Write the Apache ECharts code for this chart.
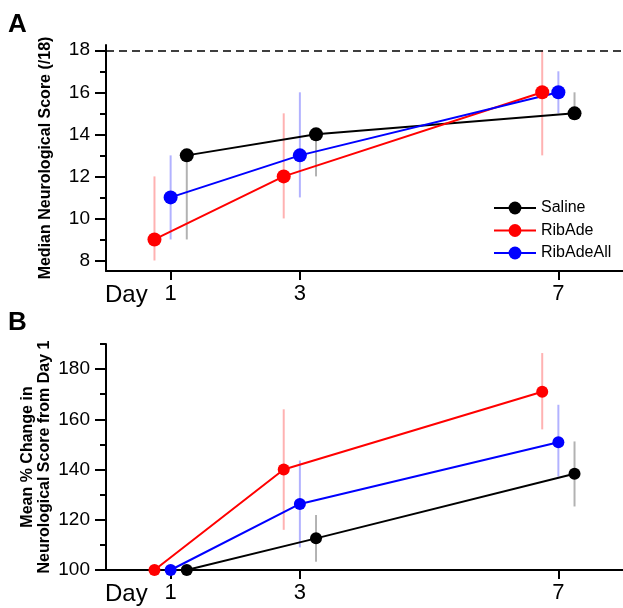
<!DOCTYPE html>
<html>
<head>
<meta charset="utf-8">
<script src="https://cdn.jsdelivr.net/npm/echarts@6/dist/echarts.min.js"></script>
<style>
html, body { margin: 0; padding: 0; background: #fff; }
#main { width: 623px; height: 608px; }
</style>
</head>
<body>
<div id="main"></div>
<script>
// days and tick labels
var days = [1, 3, 7];
var scoreTicks = [8, 10, 12, 14, 16, 18];
var scoreMinorTicks = [9, 11, 13, 15, 17];
var changeTicks = [100, 120, 140, 160, 180];
var changeMinorTicks = [110, 130, 150, 170, 190];

// panel A: median neurological score (/18) with error ranges
var salineMedian = [13, 14, 15];
var salineMedianLow = [9, 12, 15];
var salineMedianHigh = [13, 14, 16];
var ribAdeMedian = [9, 12, 16];
var ribAdeMedianLow = [8, 10, 13];
var ribAdeMedianHigh = [12, 15, 18];
var ribAdeAllMedian = [11, 13, 16];
var ribAdeAllMedianLow = [9, 11, 15];
var ribAdeAllMedianHigh = [13, 16, 17];

// panel B: mean % change from day 1 with error ranges
var salineChange = [100, 112.6, 138.3];
var salineChangeLow = [null, 103.3, 125.3];
var salineChangeHigh = [null, 121.9, 151.2];
var ribAdeChange = [100, 140, 171];
var ribAdeChangeLow = [null, 116, 156];
var ribAdeChangeHigh = [null, 164, 186.4];
var ribAdeAllChange = [100, 126.3, 150.9];
var ribAdeAllChangeLow = [null, 109, 137.2];
var ribAdeAllChangeHigh = [null, 143.6, 165.8];

var FONT = 'Liberation Sans, Arial, sans-serif';
var colors = { Saline: '#000000', RibAde: '#ff0000', RibAdeAll: '#0000ff' };
var barColors = { Saline: 'rgba(0,0,0,0.3)', RibAde: 'rgba(255,0,0,0.3)', RibAdeAll: 'rgba(0,0,255,0.3)' };
var dodge = { Saline: 0.25, RibAde: -0.25, RibAdeAll: 0 };

var myChart = echarts.init(document.getElementById('main'));

function lineSeries(name, values, gi, size) {
    return {
        name: name,
        type: 'line',
        xAxisIndex: gi,
        yAxisIndex: gi * 2,
        data: days.map(function (d, i) { return [d + dodge[name], values[i]]; }),
        symbol: 'circle',
        symbolSize: size,
        showSymbol: true,
        itemStyle: { color: colors[name] },
        lineStyle: { color: colors[name], width: 2 },
        z: 3
    };
}

function barSeries(name, lows, highs, gi) {
    return {
        type: 'custom',
        xAxisIndex: gi,
        yAxisIndex: gi * 2,
        silent: true,
        z: 1,
        data: days.map(function (d, i) {
            return [d + dodge[name], lows[i] == null ? '-' : lows[i], highs[i] == null ? '-' : highs[i]];
        }),
        encode: { x: 0, y: [1, 2] },
        renderItem: function (params, api) {
            var lo = api.value(1), hi = api.value(2);
            if (isNaN(lo) || isNaN(hi)) return null;
            var p1 = api.coord([api.value(0), lo]);
            var p2 = api.coord([api.value(0), hi]);
            return {
                type: 'line',
                shape: { x1: p1[0], y1: p1[1], x2: p2[0], y2: p2[1] },
                style: { stroke: barColors[name], lineWidth: 2 }
            };
        }
    };
}

function xAxisFor(gi) {
    return {
        gridIndex: gi,
        type: 'value',
        min: 0,
        max: 8,
        axisLine: { onZero: false, lineStyle: { color: '#000', width: 2 } },
        axisTick: { customValues: days, length: 9, lineStyle: { color: '#000', width: 2 } },
        axisLabel: { customValues: days, color: '#000', fontSize: 22, fontFamily: FONT, margin: 12 },
        splitLine: { show: false }
    };
}

function yMajor(gi, min, max, ticks, name, gap) {
    return {
        gridIndex: gi,
        type: 'value',
        position: 'left',
        min: min,
        max: max,
        name: name,
        nameLocation: 'middle',
        nameGap: gap,
        nameMoveOverlap: false,
        nameTextStyle: { fontSize: 16, fontWeight: 'bold', color: '#000', fontFamily: FONT, lineHeight: 17 },
        axisLine: { show: true, onZero: false, lineStyle: { color: '#000', width: 2 } },
        axisTick: { customValues: ticks, length: 11, lineStyle: { color: '#000', width: 2 } },
        axisLabel: { customValues: ticks, color: '#000', fontSize: 19, fontFamily: FONT, margin: 16 },
        splitLine: { show: false }
    };
}

function yMinor(gi, min, max, ticks) {
    return {
        gridIndex: gi,
        type: 'value',
        position: 'left',
        offset: 0,
        min: min,
        max: max,
        axisLine: { show: false },
        axisTick: { show: true, customValues: ticks, length: 6, lineStyle: { color: '#000', width: 2 } },
        axisLabel: { show: false },
        splitLine: { show: false }
    };
}

var salineA = lineSeries('Saline', salineMedian, 0, 14);
salineA.markLine = {
    silent: true,
    symbol: 'none',
    label: { show: false },
    lineStyle: { color: '#000', type: [8, 5], width: 1.5 },
    data: [{ yAxis: 18 }]
};

var option = {
    animation: false,
    textStyle: { fontFamily: FONT },
    grid: [
        { left: 106, top: 45, width: 520, height: 226 },
        { left: 106, top: 344, width: 520, height: 226 }
    ],
    legend: {
        orient: 'vertical',
        left: 493,
        top: 200,
        padding: 0,
        itemWidth: 42,
        itemHeight: 16,
        itemGap: 6.5,
        data: ['Saline', 'RibAde', 'RibAdeAll'],
        textStyle: { fontSize: 16, color: '#000', fontFamily: FONT }
    },
    xAxis: [xAxisFor(0), xAxisFor(1)],
    yAxis: [
        yMajor(0, 7.5, 18.25, scoreTicks, 'Median Neurological Score (/18)', 52),
        yMinor(0, 7.5, 18.25, scoreMinorTicks),
        yMajor(1, 100, 190, changeTicks, 'Mean % Change in\nNeurological Score from Day 1', 53),
        yMinor(1, 100, 190, changeMinorTicks)
    ],
    graphic: [
        { type: 'text', left: 8, top: 12, style: { text: 'A', fontSize: 26, fontWeight: 'bold', fill: '#000', fontFamily: FONT } },
        { type: 'text', left: 8, top: 310, style: { text: 'B', fontSize: 26, fontWeight: 'bold', fill: '#000', fontFamily: FONT } },
        { type: 'text', left: 105, top: 283, style: { text: 'Day', fontSize: 24, fill: '#000', fontFamily: FONT } },
        { type: 'text', left: 105, top: 582, style: { text: 'Day', fontSize: 24, fill: '#000', fontFamily: FONT } }
    ],
    series: [
        barSeries('Saline', salineMedianLow, salineMedianHigh, 0),
        barSeries('RibAde', ribAdeMedianLow, ribAdeMedianHigh, 0),
        barSeries('RibAdeAll', ribAdeAllMedianLow, ribAdeAllMedianHigh, 0),
        salineA,
        lineSeries('RibAde', ribAdeMedian, 0, 14),
        lineSeries('RibAdeAll', ribAdeAllMedian, 0, 14),
        barSeries('Saline', salineChangeLow, salineChangeHigh, 1),
        barSeries('RibAde', ribAdeChangeLow, ribAdeChangeHigh, 1),
        barSeries('RibAdeAll', ribAdeAllChangeLow, ribAdeAllChangeHigh, 1),
        lineSeries('Saline', salineChange, 1, 12),
        lineSeries('RibAde', ribAdeChange, 1, 12),
        lineSeries('RibAdeAll', ribAdeAllChange, 1, 12)
    ]
};
myChart.setOption(option);
</script>
</body>
</html>
